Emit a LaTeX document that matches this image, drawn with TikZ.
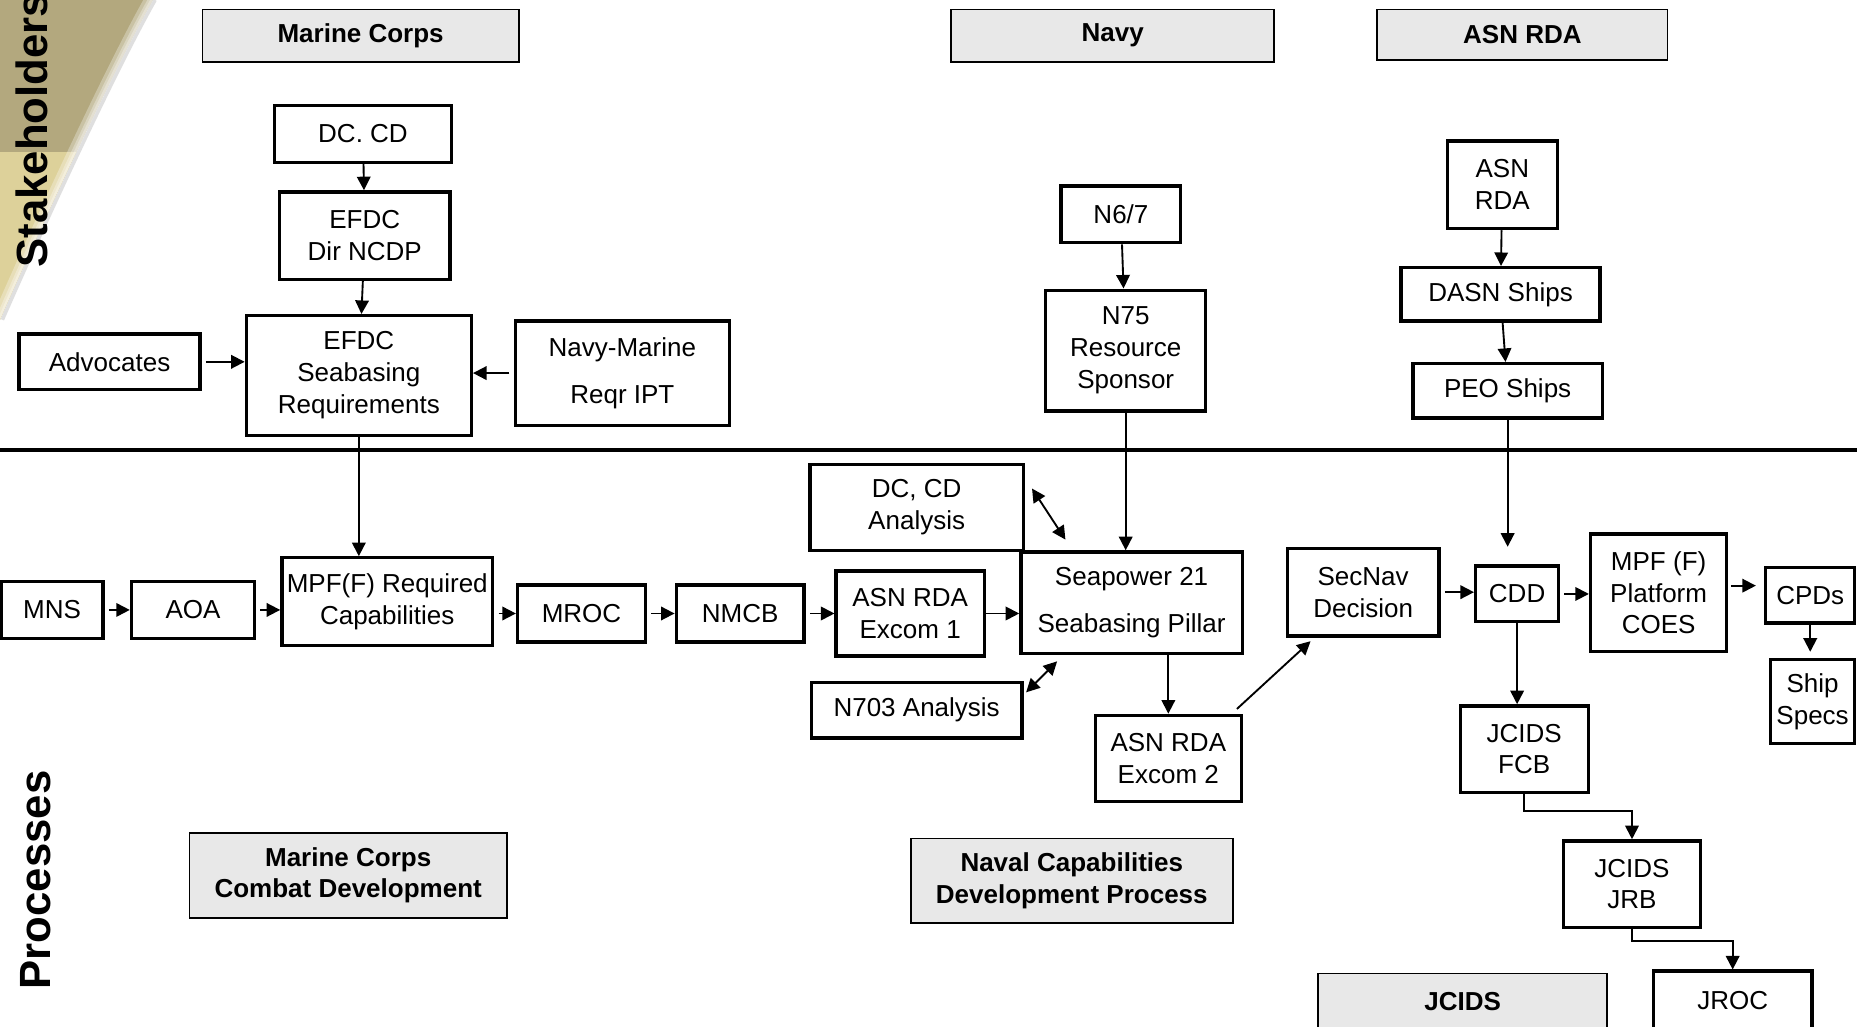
\documentclass[tikz,border=0pt]{standalone}
\usepackage{fontspec}
\setmainfont{Liberation Sans}
\usetikzlibrary{arrows.meta}

\definecolor{oliveup}{RGB}{179,168,126}
\definecolor{olivelow}{RGB}{221,209,154}

\begin{document}
\begin{tikzpicture}[x=0.02cm, y=-0.02cm,
  font=\fontsize{12.5}{15.3}\selectfont,
  wbox/.style={draw, line width=1.6pt, fill=white, align=center, inner sep=0pt},
  gbox/.style={draw, line width=0.9pt, fill=black!9, align=center, inner sep=0pt,
    font=\fontsize{12.5}{15.3}\selectfont\bfseries},
  sz/.style 2 args={minimum width={#1*0.02cm}, minimum height={#2*0.02cm}},
  arr/.style={-{Triangle[length=6.5pt,width=6.5pt]}, line width=0.9pt},
  darr/.style={{Triangle[length=6.5pt,width=6.5pt]}-{Triangle[length=6.5pt,width=6.5pt]}, line width=0.9pt},
  side/.style={rotate=90, inner sep=0pt, font=\fontsize{21}{25}\selectfont\bfseries}]

  \useasboundingbox (0,0) rectangle (1568,867);

  \fill[oliveup] (0,0) -- (129,0) .. controls (95,60) and (35,190) .. (0,270) -- cycle;
  \begin{scope}
    \clip (0,0) -- (129,0) .. controls (95,60) and (35,190) .. (0,270) -- cycle;
    \fill[olivelow] (0,128) rectangle (140,280);
    \foreach \w in {14,8,4}
      \draw[white, opacity=0.3, line width=\w*0.02cm] (129,0) .. controls (95,60) and (35,190) .. (0,270);
  \end{scope}
  \draw[black!25, opacity=0.5, line width=3*0.02cm] ([shift={(2,0)}]129,0) .. controls (97,60) and (37,190) .. (2,270);

  \draw[line width=2.3pt] (0,380) -- (1568,380);

  \node[side] (stk) at (27,110) {Stakeholders};
  \node[side] (prc) at (30,743) {Processes};

  \node[gbox, sz={267}{44}] (hmc) at (304.5,30) {Marine Corps};
  \node[gbox, sz={273}{44}] (hnavy) at (939.5,30) {Navy};
  \node[gbox, sz={245}{43}] (hasn) at (1285.5,29.5) {ASN RDA};
  \node[gbox, sz={268}{72}] (pmc) at (294,739) {Marine Corps\\Combat Development};
  \node[gbox, sz={272}{71}] (pnav) at (905,743.5) {Naval Capabilities\\Development Process};
  \node[gbox, sz={244}{48}] (pjc) at (1235,846) {JCIDS};

  \node[wbox, sz={149}{48}] (dccd) at (306.5,113) {DC. CD};
  \node[wbox, sz={144}{74}] (efdcdir) at (308,199) {EFDC\\Dir NCDP};
  \node[wbox, sz={190}{101}] (efdcreq) at (303,317) {EFDC\\Seabasing\\Requirements};
  \node[wbox, sz={153}{47}] (adv) at (92.5,305.5) {Advocates};
  \node[wbox, sz={181}{88}] (nmipt) at (525.5,315) {Navy-Marine\\[7.4pt]Reqr IPT};
  \node[wbox, sz={101}{48}] (n67) at (946.5,181) {N6/7};
  \node[wbox, sz={135}{102}] (n75) at (950.5,296) {N75\\Resource\\Sponsor};
  \node[wbox, sz={93}{74}] (asn) at (1268.5,156) {ASN\\RDA};
  \node[wbox, sz={168}{45}] (dasn) at (1267,248.5) {DASN Ships};
  \node[wbox, sz={160}{46}] (peo) at (1273,330) {PEO Ships};

  \node[wbox, sz={86}{48}] (mns) at (44,515) {MNS};
  \node[wbox, sz={104}{48}] (aoa) at (163,515) {AOA};
  \node[wbox, sz={178}{74}] (mpfreq) at (327,508) {MPF(F) Required\\Capabilities};
  \node[wbox, sz={108}{48}] (mroc) at (491,518) {MROC};
  \node[wbox, sz={108}{48}] (nmcb) at (625,518) {NMCB};
  \node[wbox, sz={180}{73}] (dcana) at (774,428.5) {DC, CD\\Analysis};
  \node[wbox, sz={125}{72}] (exa) at (768.5,518) {ASN RDA\\Excom 1};
  \node[wbox, sz={178}{47}] (n703) at (774,599.5) {N703 Analysis};
  \node[wbox, sz={187}{86}] (sp21) at (955.5,509) {Seapower 21\\[7.4pt]Seabasing Pillar};
  \node[wbox, sz={123}{73}] (exb) at (986.5,640.5) {ASN RDA\\Excom 2};
  \node[wbox, sz={128}{74}] (secnav) at (1151,500) {SecNav\\Decision};
  \node[wbox, sz={70}{47}] (cdd) at (1281,501.5) {CDD};
  \node[wbox, sz={115}{99}] (coes) at (1400.5,500.5) {MPF (F)\\Platform\\COES};
  \node[wbox, sz={75}{47}] (cpds) at (1528.5,502.5) {CPDs};
  \node[wbox, sz={71}{71}] (ships) at (1530.5,592.5) {Ship\\Specs};
  \node[wbox, sz={108}{73}] (fcb) at (1287,632.5) {JCIDS\\FCB};
  \node[wbox, sz={116}{73}] (jrb) at (1378,746.5) {JCIDS\\JRB};
  \node[wbox, sz={134}{50}] (jroc) at (1463,845) {JROC};

  \draw[arr] (dccd) -- (efdcdir);
  \draw[arr] (efdcdir) -- (efdcreq);
  \draw[arr, shorten <=2pt] (adv.east) -- (adv.east -| efdcreq.west);
  \draw[arr, shorten <=2pt] (nmipt.west) -- (nmipt.west -| efdcreq.east);
  \draw[arr] (efdcreq.south) -- (efdcreq.south |- mpfreq.north);

  \draw[arr] (n67) -- (n75);
  \draw[arr] (n75.south) -- (n75.south |- sp21.north);
  \draw[arr] (asn) -- (dasn);
  \draw[arr] (dasn) -- (peo);
  \draw[arr, shorten >=8.5pt] (peo.south) -- (peo.south |- cdd.north);

  \foreach \a/\b in {mns/aoa, aoa/mpfreq, mroc/nmcb, nmcb/exa}
    \draw[arr, shorten <=2pt] (\a.east) -- (\a.east -| \b.west);
  \draw[arr, shorten <=2pt] (mpfreq.east |- mroc.west) -- (mroc.west);
  \draw[arr] (exa.east) -- (exa.east -| sp21.west);

  \draw[darr] ([shift={(6,-16)}]dcana.east) -- ([shift={(39,-9)}]sp21.north west);
  \draw[darr] ([shift={(2,10)}]n703.north east) -- ([shift={(32,5)}]sp21.south west);
  \draw[arr] (exb.north |- sp21.south) -- (exb.north);
  \draw[arr] ([shift={(-5,-4)}]exb.north east) -- ([shift={(21,3)}]secnav.south west);
  \draw[arr, shorten <=2pt] (secnav.east) -- (secnav.east -| cdd.west);
  \draw[arr, shorten <=2pt] (cdd.east) -- (cdd.east -| coes.west);
  \draw[arr] ([shift={(2,-6)}]coes.east) -- ([shift={(-7,-8)}]cpds.west);
  \draw[arr, shorten >=3pt] (cpds.south) -- (cpds.south |- ships.north);
  \draw[arr] (cdd.south) -- (cdd.south |- fcb.north);
  \draw[arr] (fcb.south) -- ++(0,14) -| (jrb.north);
  \draw[arr] (jrb.south) -- ++(0,10) -| (jroc.north);
\end{tikzpicture}
\end{document}
